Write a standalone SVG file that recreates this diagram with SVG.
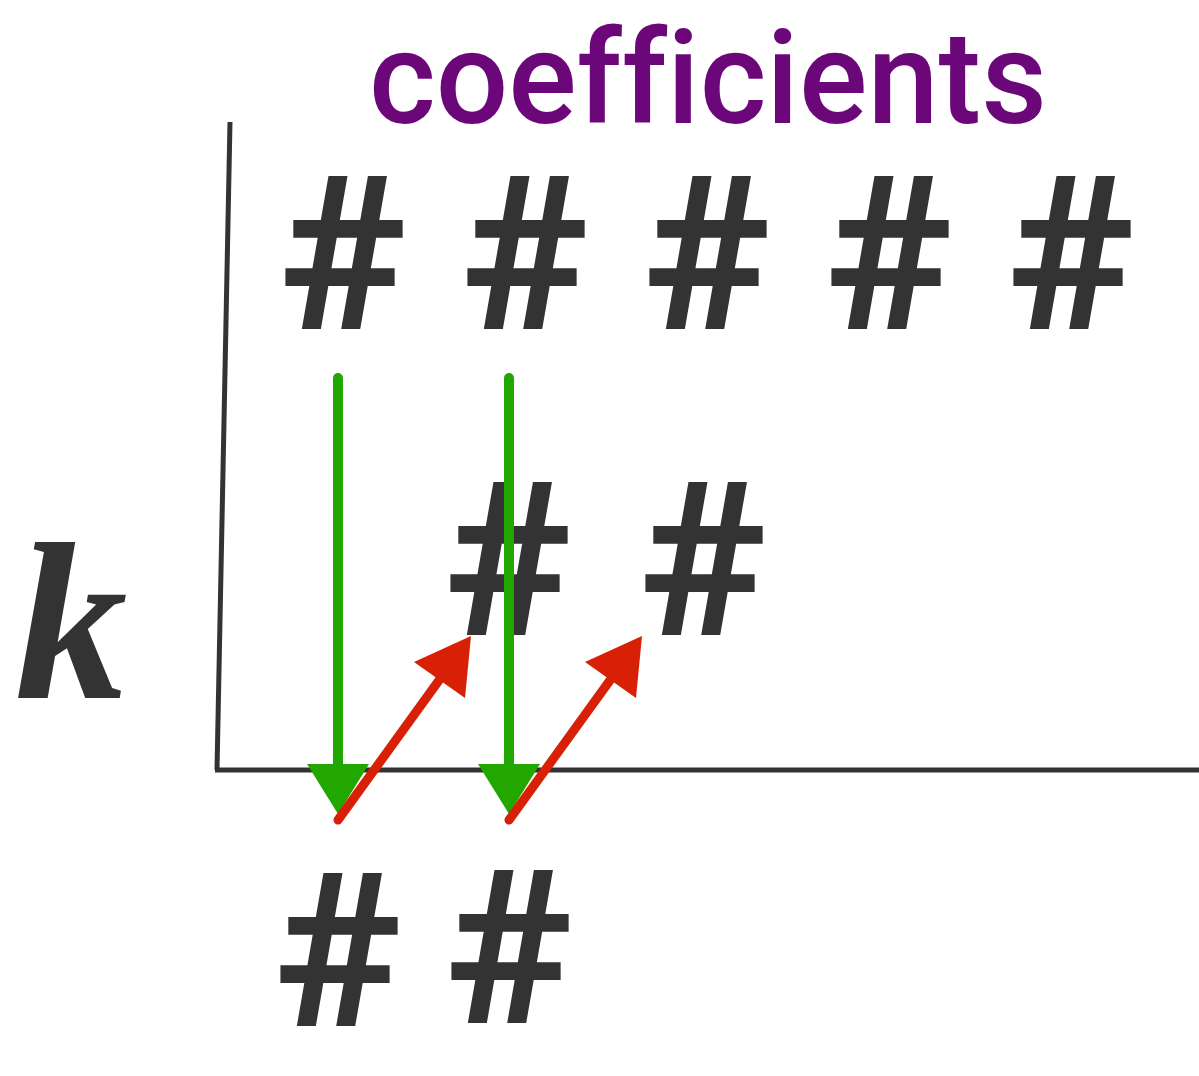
<svg xmlns="http://www.w3.org/2000/svg" width="1199" height="1076" viewBox="0 0 1199 1076">
<style>
.h{font-family:Roboto,"Liberation Sans",Arial,sans-serif;font-weight:bold;font-size:215px;fill:#333;text-anchor:middle}
.ax{stroke:#333;stroke-width:5;fill:none}
.g{stroke:#22a600;stroke-width:10;stroke-linecap:round;fill:none}
.gh{fill:#22a600}
.r{stroke:#d82006;stroke-width:9;stroke-linecap:round;fill:none}
.rh{fill:#d82006}
</style>
<rect width="1199" height="1076" fill="#fff"/>
<g id="title"><text x="369" y="123" font-family="Roboto, Liberation Sans, Arial, sans-serif" font-weight="500" font-size="130" fill="#6b0779" style="font-variant-ligatures:none" textLength="678" lengthAdjust="spacingAndGlyphs">coefficients</text></g>
<g id="k-label"><text x="15" y="698" font-family="Liberation Serif, Times New Roman, serif" font-weight="bold" font-style="italic" font-size="225" fill="#333">k</text></g>
<g id="axes"><path class="ax" d="M230 122 L217 770"/><path class="ax" d="M215 770 L1199 770"/></g>
<g id="row1">
<text id="c1" class="h" x="343" y="329">#</text>
<text id="c2" class="h" x="525" y="329">#</text>
<text id="c3" class="h" x="707" y="329">#</text>
<text id="c4" class="h" x="889" y="329">#</text>
<text id="c5" class="h" x="1071" y="329">#</text>
</g>
<g id="row2">
<text id="m1" class="h" x="508" y="635">#</text>
<text id="m2" class="h" x="703" y="635">#</text>
</g>
<g id="row3">
<text id="b1" class="h" x="338" y="1026">#</text>
<text id="b2" class="h" x="509" y="1023">#</text>
</g>
<g id="connectors">
<path class="g" d="M338 378 L338 770"/><polygon class="gh" points="307,764 369,764 338,814"/>
<path class="g" d="M509 378 L509 770"/><polygon class="gh" points="478,764 540,764 509,814"/>
<path class="r" d="M338 820 L445 672"/><polygon class="rh" points="471,636 414,662 465,698"/>
<path class="r" d="M509 820 L616 672"/><polygon class="rh" points="642,636 585,662 636,698"/>
</g>
</svg>
